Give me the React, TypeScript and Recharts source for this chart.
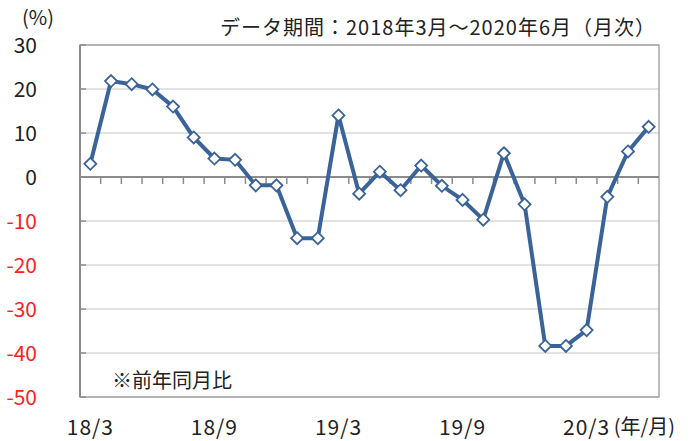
import React from 'react';
import {
  LineChart, Line, XAxis, YAxis, CartesianGrid, ReferenceLine, ReferenceArea,
} from 'recharts';

// ── Data ───────────────────────────────────────────────────

const MONTHS = [
  '18/3', '18/4', '18/5', '18/6', '18/7', '18/8', '18/9', '18/10', '18/11', '18/12',
  '19/1', '19/2', '19/3', '19/4', '19/5', '19/6', '19/7', '19/8', '19/9', '19/10',
  '19/11', '19/12', '20/1', '20/2', '20/3', '20/4', '20/5', '20/6',
];

const YOY = [
  3.0, 21.8, 21.1, 19.9, 16.0, 9.0, 4.2, 3.9, -1.9, -1.9,
  -13.9, -13.9, 14.0, -3.8, 1.2, -3.0, 2.6, -2.0, -5.2, -9.7,
  5.4, -6.2, -38.4, -38.4, -34.8, -4.5, 5.8, 11.4,
];

const X_TICKS = [0, 6, 12, 18, 24];
const Y_TICKS = [-50, -40, -30, -20, -10, 0, 10, 20, 30];

// ── Styles ─────────────────────────────────────────────────

const FONT = '"Noto Sans CJK JP", "Noto Sans", sans-serif';
const LINE_COLOR = '#3a6398';
const TEXT = '#222';

const data = YOY.map((v, i) => ({ idx: i, month: MONTHS[i], value: v }));
// boundaries between months, for the little ticks on the zero line
const boundaries = MONTHS.slice(1).map((_, i) => i + 0.5);

const Diamond = (props: any) => {
  const { cx, cy } = props;
  if (cx == null || cy == null) return null;
  const r = 6;
  return (
    <polygon
      points={`${cx},${cy - r} ${cx + r},${cy} ${cx},${cy + r} ${cx - r},${cy}`}
      fill="#fff"
      stroke={LINE_COLOR}
      strokeWidth={1.8}
    />
  );
};

const YTick = (props: any) => {
  const { x, y, payload } = props;
  return (
    <text
      x={x}
      y={y}
      dy="0.36em"
      textAnchor="end"
      fontSize={21}
      fontFamily={FONT}
      fill={payload.value < 0 ? '#ff2020' : TEXT}
    >
      {payload.value}
    </text>
  );
};

const XTick = (props: any) => {
  const { x, y, payload } = props;
  const label = MONTHS[payload.value];
  return (
    <g>
      <text x={x} y={y} dy="0.71em" textAnchor="middle" fontSize={21} letterSpacing={1} fontFamily={FONT} fill={TEXT}>
        {label}
      </text>
      {payload.value === 24 && (
        <text x={x + 27} y={y} dy="0.71em" textAnchor="start" fontSize={20} fontFamily={FONT} fill={TEXT}>
          (年/月)
        </text>
      )}
    </g>
  );
};

export default function App() {
  return (
    <div style={{ position: 'absolute', left: 0, top: 0, width: 694, height: 441, background: '#fff', fontFamily: FONT }}>
      <LineChart
        width={694}
        height={441}
        data={data}
        margin={{ top: 45, right: 35, bottom: 0, left: 0 }}
      >
        <CartesianGrid vertical={false} stroke="#d9d9d9" strokeWidth={1.5} />
        <ReferenceArea x1={-0.5} x2={27.5} y1={-50} y2={30} fill="none" stroke="#a6a6a6" strokeWidth={1.5} />
        <XAxis
          dataKey="idx"
          type="number"
          domain={[-0.5, 27.5]}
          ticks={X_TICKS}
          tick={<XTick />}
          tickLine={false}
          axisLine={false}
          tickSize={0}
          tickMargin={23}
          height={44}
          interval={0}
        />
        <YAxis
          type="number"
          domain={[-50, 30]}
          ticks={Y_TICKS}
          tick={<YTick />}
          width={80}
          axisLine={{ stroke: '#8c8c8c', strokeWidth: 2 }}
          tickLine={{ stroke: '#8c8c8c', strokeWidth: 1.5 }}
          tickSize={-6}
          tickMargin={49}
          interval={0}
        />
        <ReferenceLine y={0} stroke="#8c8c8c" strokeWidth={2} />
        {boundaries.map((b) => (
          <ReferenceLine
            key={b}
            segment={[{ x: b, y: 0 }, { x: b, y: -1.6 }]}
            stroke="#8c8c8c"
            strokeWidth={1.5}
          />
        ))}
        <Line
          type="linear"
          dataKey="value"
          stroke={LINE_COLOR}
          strokeWidth={4}
          dot={<Diamond />}
          activeDot={false}
          isAnimationActive={false}
        />
      </LineChart>
      <div style={{ position: 'absolute', left: 22, top: 3, fontSize: 20, lineHeight: '28px', color: TEXT }}>(%)</div>
      <div style={{ position: 'absolute', right: 38, top: 13, fontSize: 20, lineHeight: '28px', letterSpacing: 1, color: TEXT, whiteSpace: 'nowrap' }}>
        データ期間：2018年3月～2020年6月（月次）
      </div>
      <div style={{ position: 'absolute', left: 112, top: 366, fontSize: 20, lineHeight: '28px', color: TEXT }}>※前年同月比</div>
    </div>
  );
}
